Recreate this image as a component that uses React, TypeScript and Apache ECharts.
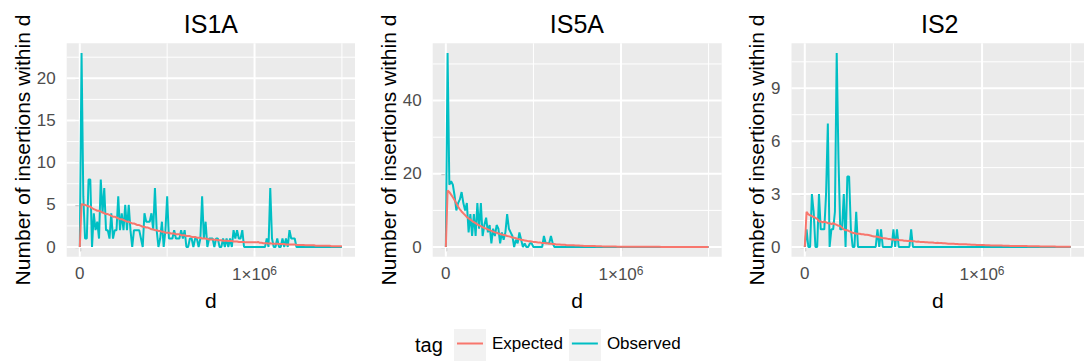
import React, { useEffect, useRef } from "react";
import * as echarts from "echarts";

// ---- data (d step of 10 000) ----
const D_STEP = 10000;

const IS1A_OBSERVED = [
  0, 23, 6, 1, 1, 8, 8, 0, 4, 2,
  3, 1, 8, 4, 7, 2, 2, 1, 4, 1,
  2, 2, 6, 2, 4, 2, 5, 2, 5, 2,
  0, 2, 2, 2, 2, 1, 0, 4, 3, 3,
  3, 4, 2, 7, 2, 0, 1, 3, 0, 2,
  6, 1, 1, 1, 2, 1, 1, 1, 2, 1,
  2, 0, 0, 1, 1, 0, 1, 1, 0, 1,
  6, 1, 3, 0, 1, 1, 1, 0, 1, 1,
  0, 0, 1, 0, 1, 0, 1, 0, 2, 1,
  2, 1, 1, 2, 0, 0, 0, 0, 0, 0,
  0, 0, 0, 0, 0, 0, 0, 1, 0, 7,
  1, 0, 0, 1, 0, 0, 1, 0, 1, 0,
  2, 1, 1, 1, 0, 0, 0, 0, 0, 0,
  0, 0, 0, 0, 0, 0, 0, 0, 0, 0,
  0, 0, 0, 0, 0, 0, 0, 0, 0, 0,
  0,
];
const IS1A_EXPECTED = [
  0, 5.1, 5.0, 5.0, 4.9, 4.8, 4.8, 4.6, 4.5, 4.4,
  4.3, 4.3, 4.2, 4.1, 4.0, 3.9, 3.9, 3.8, 3.7, 3.6,
  3.6, 3.5, 3.4, 3.3, 3.3, 3.2, 3.1, 3.0, 3.0, 2.9,
  2.8, 2.8, 2.7, 2.6, 2.6, 2.5, 2.4, 2.4, 2.3, 2.3,
  2.2, 2.1, 2.1, 2.0, 2.0, 1.9, 1.9, 1.8, 1.8, 1.7,
  1.7, 1.7, 1.6, 1.6, 1.6, 1.5, 1.5, 1.5, 1.4, 1.4,
  1.4, 1.3, 1.3, 1.3, 1.2, 1.2, 1.2, 1.1, 1.1, 1.1,
  1.0, 1.0, 1.0, 0.95, 0.9, 0.9, 0.9, 0.85, 0.85, 0.8,
  0.8, 0.8, 0.75, 0.75, 0.75, 0.7, 0.7, 0.7, 0.65, 0.65,
  0.65, 0.6, 0.6, 0.6, 0.6, 0.55, 0.55, 0.55, 0.55, 0.55,
  0.55, 0.55, 0.6, 0.5, 0.5, 0.45, 0.45, 0.45, 0.4, 0.45,
  0.4, 0.4, 0.4, 0.4, 0.35, 0.35, 0.35, 0.35, 0.3, 0.3,
  0.3, 0.3, 0.3, 0.3, 0.25, 0.25, 0.25, 0.25, 0.25, 0.2,
  0.2, 0.2, 0.2, 0.2, 0.2, 0.15, 0.15, 0.15, 0.15, 0.15,
  0.15, 0.15, 0.15, 0.15, 0.1, 0.1, 0.1, 0.1, 0.1, 0.1,
  0.1,
];

const IS5A_OBSERVED = [
  0, 53, 17, 18, 17, 14, 10, 12, 13, 15,
  12, 10, 12, 4, 9, 3, 9, 3, 12, 5,
  12, 3, 6, 8, 4, 6, 1, 5, 3, 6,
  5, 1, 4, 2, 4, 9, 5, 4, 3, 0,
  2, 1, 4, 2, 0, 1, 0, 0, 1, 1,
  0, 0, 0, 0, 0, 0, 3, 1, 1, 1,
  3, 1, 0, 0, 0, 0, 0, 0, 0, 0,
  0, 0, 0, 0, 0, 0, 0, 0, 0, 0,
  0, 0, 0, 0, 0, 0, 0, 0, 0, 0,
  0, 0, 0, 0, 0, 0, 0, 0, 0, 0,
  0, 0, 0, 0, 0, 0, 0, 0, 0, 0,
  0, 0, 0, 0, 0, 0, 0, 0, 0, 0,
  0, 0, 0, 0, 0, 0, 0, 0, 0, 0,
  0, 0, 0, 0, 0, 0, 0, 0, 0, 0,
  0, 0, 0, 0, 0, 0, 0, 0, 0, 0,
  0,
];
const IS5A_EXPECTED = [
  0, 15.4, 15.0, 14.3, 13.6, 12.8, 11.9, 11.0, 10.3, 9.7,
  9.2, 8.7, 8.2, 7.8, 7.5, 7.1, 6.8, 6.5, 6.2, 5.9,
  5.7, 5.4, 5.2, 5.0, 4.8, 4.6, 4.4, 4.2, 4.0, 3.9,
  3.7, 3.6, 3.4, 3.3, 3.2, 3.0, 2.9, 2.8, 2.6, 2.5,
  2.4, 2.2, 2.1, 2.0, 1.9, 1.8, 1.7, 1.6, 1.6, 1.5,
  1.4, 1.4, 1.3, 1.2, 1.2, 1.1, 1.1, 1.0, 1.0, 0.9,
  0.9, 0.8, 0.8, 0.7, 0.7, 0.7, 0.6, 0.6, 0.6, 0.5,
  0.5, 0.5, 0.45, 0.45, 0.4, 0.4, 0.4, 0.35, 0.35, 0.3,
  0.3, 0.3, 0.28, 0.26, 0.25, 0.24, 0.22, 0.2, 0.2, 0.18,
  0.17, 0.16, 0.15, 0.14, 0.13, 0.12, 0.12, 0.11, 0.1, 0.1,
  0.09, 0.09, 0.08, 0.08, 0.08, 0.07, 0.07, 0.07, 0.06, 0.06,
  0.06, 0.06, 0.05, 0.05, 0.05, 0.05, 0.05, 0.04, 0.04, 0.04,
  0.04, 0.04, 0.04, 0.03, 0.03, 0.03, 0.03, 0.03, 0.03, 0.03,
  0.03, 0.02, 0.02, 0.02, 0.02, 0.02, 0.02, 0.02, 0.02, 0.02,
  0.02, 0.02, 0.02, 0.01, 0.01, 0.01, 0.01, 0.01, 0.01, 0.01,
  0.01,
];

const IS2_OBSERVED = [
  0, 1, 0, 0, 3, 2, 0, 0, 3, 1,
  1, 1, 3, 7, 0, 1, 1, 2, 11, 5,
  1, 1, 3, 0, 4, 4, 1, 0, 0, 2,
  0, 0, 0, 0, 0, 0, 0, 0, 0, 0,
  0, 1, 0, 1, 0, 0, 0, 0, 0, 0,
  1, 0, 1, 0, 0, 0, 0, 0, 0, 0,
  1, 0, 0, 0, 0, 0, 0, 0, 0, 0,
  0, 0, 0, 0, 0, 0, 0, 0, 0, 0,
  0, 0, 0, 0, 0, 0, 0, 0, 0, 0,
  0, 0, 0, 0, 0, 0, 0, 0, 0, 0,
  0, 0, 0, 0, 0, 0, 0, 0, 0, 0,
  0, 0, 0, 0, 0, 0, 0, 0, 0, 0,
  0, 0, 0, 0, 0, 0, 0, 0, 0, 0,
  0, 0, 0, 0, 0, 0, 0, 0, 0, 0,
  0, 0, 0, 0, 0, 0, 0, 0, 0, 0,
  0,
];
const IS2_EXPECTED = [
  0, 2.0, 1.85, 1.8, 1.75, 1.7, 1.65, 1.6, 1.45, 1.45,
  1.4, 1.45, 1.4, 1.35, 1.35, 1.3, 1.35, 1.3, 1.25, 1.2,
  1.2, 1.1, 1.0, 0.95, 0.95, 0.9, 0.85, 0.8, 0.8, 0.75,
  0.75, 0.75, 0.72, 0.72, 0.7, 0.7, 0.68, 0.65, 0.62, 0.6,
  0.6, 0.58, 0.55, 0.52, 0.5, 0.5, 0.48, 0.46, 0.45, 0.42,
  0.42, 0.4, 0.42, 0.4, 0.38, 0.38, 0.36, 0.36, 0.34, 0.35,
  0.34, 0.32, 0.32, 0.3, 0.31, 0.29, 0.28, 0.28, 0.27, 0.27,
  0.26, 0.25, 0.26, 0.24, 0.23, 0.24, 0.22, 0.22, 0.21, 0.21,
  0.2, 0.19, 0.19, 0.18, 0.18, 0.17, 0.17, 0.16, 0.16, 0.15,
  0.15, 0.15, 0.14, 0.14, 0.13, 0.13, 0.13, 0.12, 0.12, 0.11,
  0.11, 0.11, 0.1, 0.1, 0.1, 0.09, 0.09, 0.09, 0.08, 0.08,
  0.08, 0.08, 0.07, 0.07, 0.07, 0.07, 0.06, 0.06, 0.06, 0.06,
  0.05, 0.05, 0.05, 0.05, 0.05, 0.05, 0.04, 0.04, 0.04, 0.04,
  0.04, 0.04, 0.04, 0.03, 0.03, 0.03, 0.03, 0.03, 0.03, 0.03,
  0.03, 0.03, 0.02, 0.02, 0.02, 0.02, 0.02, 0.02, 0.02, 0.02,
  0.02,
];

const PANEL_TITLES = ["IS1A", "IS5A", "IS2"];
const X_TICKS = [0, 1000000];
const X_MINOR = [500000, 1500000];
const IS1A_Y_TICKS = [0, 5, 10, 15, 20];
const IS1A_Y_MINOR = [2.5, 7.5, 12.5, 17.5, 22.5];
const IS5A_Y_TICKS = [0, 20, 40];
const IS5A_Y_MINOR = [10, 30, 50];
const IS2_Y_TICKS = [0, 3, 6, 9];
const IS2_Y_MINOR = [1.5, 4.5, 7.5, 10.5];
const LEGEND_NAMES = ["Expected", "Observed"];

const RED = "#F8766D";
const TEAL = "#00BFC4";
const GRID_WHITE = "#FFFFFF";
const FONT = "'Liberation Sans', Arial, Helvetica, sans-serif";
const X_MIN = -75000;
const X_MAX = 1575000;

const PANELS = [
  { obs: IS1A_OBSERVED, exp: IS1A_EXPECTED, yTicks: IS1A_Y_TICKS, yMinor: IS1A_Y_MINOR, yMin: -1.15, yMax: 24.15, left: 66.7, width: 288.3, nameGap: 26 },
  { obs: IS5A_OBSERVED, exp: IS5A_EXPECTED, yTicks: IS5A_Y_TICKS, yMinor: IS5A_Y_MINOR, yMin: -2.65, yMax: 55.65, left: 432.7, width: 289, nameGap: 26 },
  { obs: IS2_OBSERVED, exp: IS2_EXPECTED, yTicks: IS2_Y_TICKS, yMinor: IS2_Y_MINOR, yMin: -0.55, yMax: 11.55, left: 791.5, width: 296.5, nameGap: 17 },
];

const GRID_TOP = 43.3;
const GRID_HEIGHT = 213.4;

export default function App() {
  const ref = useRef<HTMLDivElement>(null);

  useEffect(() => {
    if (!ref.current) return;
    const chart = echarts.init(ref.current, undefined, { renderer: "svg" });

    const grid: any[] = [];
    const xAxis: any[] = [];
    const yAxis: any[] = [];
    const series: any[] = [];
    const graphic: any[] = [];

    const gridLineSeries = (k: number, data: number[][], width: number) => ({
      type: "line",
      xAxisIndex: k,
      yAxisIndex: k,
      data,
      showSymbol: false,
      symbol: "none",
      silent: true,
      clip: false,
      z: 1,
      lineStyle: { color: GRID_WHITE, width },
    });

    PANELS.forEach((p, k) => {
      grid.push({
        left: p.left,
        top: GRID_TOP,
        width: p.width,
        height: GRID_HEIGHT,
        show: true,
        backgroundColor: "#EBEBEB",
        borderWidth: 0,
        containLabel: false,
      });
      xAxis.push({
        type: "value",
        gridIndex: k,
        min: X_MIN,
        max: X_MAX,
        axisLine: { show: false },
        splitLine: { show: false },
        axisTick: {
          show: true,
          customValues: X_TICKS,
          length: 4.5,
          lineStyle: { color: "#333333", width: 1.1 },
        },
        axisLabel: {
          customValues: X_TICKS,
          margin: 8,
          fontSize: 17,
          fontFamily: FONT,
          color: "#4D4D4D",
          formatter: (v: number) => (v === 0 ? "0" : "1×10{sup|6}"),
          rich: {
            sup: { fontSize: 12, fontFamily: FONT, color: "#4D4D4D", verticalAlign: "top", padding: [0, 0, 8, 0] },
          },
        },
        name: "d",
        nameLocation: "middle",
        nameGap: 33,
        nameTextStyle: { fontSize: 21, fontFamily: FONT, color: "#000000" },
      });
      yAxis.push({
        type: "value",
        gridIndex: k,
        min: p.yMin,
        max: p.yMax,
        axisLine: { show: false },
        splitLine: { show: false },
        axisTick: {
          show: true,
          customValues: p.yTicks,
          length: 4.5,
          lineStyle: { color: "#333333", width: 1.1 },
        },
        axisLabel: {
          customValues: p.yTicks,
          margin: 11,
          fontSize: 17,
          fontFamily: FONT,
          color: "#4D4D4D",
        },
        name: "Number of insertions within d",
        nameLocation: "middle",
        nameRotate: 90,
        nameGap: p.nameGap,
        nameTextStyle: { fontSize: 21, fontFamily: FONT, color: "#000000" },
      });

      // white panel grid lines (minor thin, major thick), drawn through the axes
      p.yMinor.forEach((v) => series.push(gridLineSeries(k, [[X_MIN, v], [X_MAX, v]], 1)));
      X_MINOR.forEach((v) => series.push(gridLineSeries(k, [[v, p.yMin], [v, p.yMax]], 1)));
      p.yTicks.forEach((v) => series.push(gridLineSeries(k, [[X_MIN, v], [X_MAX, v]], 2)));
      X_TICKS.forEach((v) => series.push(gridLineSeries(k, [[v, p.yMin], [v, p.yMax]], 2)));

      series.push({
        type: "line",
        name: "Observed",
        xAxisIndex: k,
        yAxisIndex: k,
        data: p.obs.map((v, i) => [i * D_STEP, v]),
        showSymbol: false,
        symbol: "none",
        lineStyle: { color: TEAL, width: 2 },
        itemStyle: { color: TEAL },
        z: 3,
      });
      series.push({
        type: "line",
        name: "Expected",
        xAxisIndex: k,
        yAxisIndex: k,
        data: p.exp.map((v, i) => [i * D_STEP, v]),
        showSymbol: false,
        symbol: "none",
        lineStyle: { color: RED, width: 2 },
        itemStyle: { color: RED },
        z: 4,
      });

      graphic.push({
        type: "text",
        x: p.left + 144.2 + (k === 2 ? 4 : 0),
        y: 23.5,
        style: {
          text: PANEL_TITLES[k],
          fontSize: 25,
          fontFamily: FONT,
          fill: "#000000",
          align: "center",
          verticalAlign: "middle",
        },
      });
    });

    graphic.push({
      type: "text",
      x: 415,
      y: 345,
      style: { text: "tag", fontSize: 20, fontFamily: FONT, fill: "#000000", align: "left", verticalAlign: "middle" },
    });
    graphic.push({ type: "rect", shape: { x: 454, y: 329, width: 32, height: 32 }, style: { fill: "#F2F2F2" }, z: 0 });
    graphic.push({ type: "rect", shape: { x: 569, y: 329, width: 32, height: 32 }, style: { fill: "#F2F2F2" }, z: 0 });

    chart.setOption({
      animation: false,
      grid,
      xAxis,
      yAxis,
      series,
      graphic,
      legend: {
        data: LEGEND_NAMES.map((n) => ({ name: n, itemStyle: { color: n === "Expected" ? RED : TEAL } })),
        icon: "rect",
        itemWidth: 26,
        itemHeight: 2,
        itemGap: 9,
        left: 457,
        top: 335,
        padding: 0,
        selectedMode: false,
        z: 5,
        textStyle: { fontSize: 17, fontFamily: FONT, color: "#000000", padding: [0, 0, 0, 4] },
      },
    });

    return () => {
      chart.dispose();
    };
  }, []);

  return (
    <div
      ref={ref}
      style={{ position: "fixed", left: 0, top: 0, width: 1084, height: 362, background: "#FFFFFF" }}
    />
  );
}
